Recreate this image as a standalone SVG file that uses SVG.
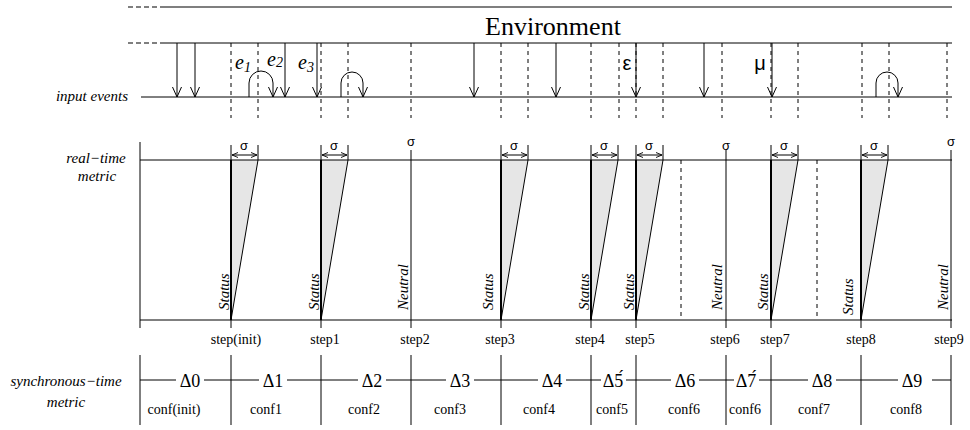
<svg xmlns="http://www.w3.org/2000/svg" width="970" height="430" viewBox="0 0 970 430">
<style>
.ln{stroke:#000;stroke-width:1;fill:none}
.gr{stroke:#555;stroke-width:1.5;fill:none}
.dash{stroke:#000;stroke-width:1;stroke-dasharray:4 4;fill:none}
.thick{stroke:#000;stroke-width:2;fill:none}
.shade{fill:#e6e6e6;stroke:none}
.ser{font-family:"Liberation Serif","Times New Roman",serif;fill:#000}
.it{font-style:italic}
.sans{font-family:"Liberation Sans",Arial,sans-serif;fill:#000}
.lbl{font-size:15px;text-anchor:middle}
.step{font-size:14px;text-anchor:middle}
.conf{font-size:14px;text-anchor:middle}
.delta{font-size:18px;text-anchor:middle}
.sig{font-size:13px;text-anchor:middle}
.rot{font-size:15px}
</style>
<defs>
<marker id="ah" viewBox="0 0 10 10" refX="10" refY="5" markerWidth="10" markerHeight="10" markerUnits="userSpaceOnUse" orient="auto"><path d="M0,0.5 L10,5 L0,9.5" fill="none" stroke="#000" stroke-width="1"/></marker>
<marker id="sa" viewBox="0 0 6 6" refX="6" refY="3" markerWidth="6" markerHeight="6" markerUnits="userSpaceOnUse" orient="auto-start-reverse"><path d="M0,0.5 L6,3 L0,5.5" fill="none" stroke="#000" stroke-width="0.9"/></marker>
</defs>

<g id="environment">
<path class="gr" d="M128,7 H165 M128,43 H165" style="stroke-dasharray:5 3"/>
<path class="gr" d="M165,7 H952"/>
<path class="ln" d="M165,43 H952"/>
<text class="ser" font-size="26" x="553" y="35" text-anchor="middle">Environment</text>
</g>

<g id="input-events">
<text class="ser it" font-size="15" x="128" y="101" text-anchor="end">input events</text>
<path class="ln" d="M141,97 H952"/>
<path class="dash" d="M231,43 V118 M258,43 V118 M321,43 V118 M348,43 V118 M411,43 V118 M501,43 V118 M528,43 V118 M591,43 V118 M619,43 V118 M636,43 V118 M663,43 V118 M722,43 V118 M771,43 V118 M798,43 V118 M862,43 V118 M889,43 V118 M947,43 V118"/>
<text class="ser it" font-size="20" x="235" y="69">e<tspan font-size="14" dy="3">1</tspan></text>
<text class="ser it" font-size="20" x="267" y="66">e<tspan font-size="14" dy="1">2</tspan></text>
<text class="ser it" font-size="20" x="298" y="69">e<tspan font-size="14" dy="3">3</tspan></text>
<text class="sans" font-size="20" x="627" y="70" text-anchor="middle">ε</text>
<text class="sans" font-size="20" x="760" y="70" text-anchor="middle">μ</text>
</g>

<g id="connectors">
<path class="ln" marker-end="url(#ah)" d="M177,43 V97"/>
<path class="ln" marker-end="url(#ah)" d="M195,43 V97"/>
<path class="ln" marker-end="url(#ah)" d="M285,43 V97"/>
<path class="ln" marker-end="url(#ah)" d="M317,43 V97"/>
<path class="ln" marker-end="url(#ah)" d="M474,43 V97"/>
<path class="ln" marker-end="url(#ah)" d="M556,43 V97"/>
<path class="ln" marker-end="url(#ah)" d="M636,43 V97"/>
<path class="ln" marker-end="url(#ah)" d="M704,43 V97"/>
<path class="ln" marker-end="url(#ah)" d="M772,43 V97"/>
<path class="ln" marker-end="url(#ah)" d="M249,97 V83 A12,12 0 0 1 273,83 V97"/>
<path class="ln" marker-end="url(#ah)" d="M341,97 V83 A11,11 0 0 1 363,83 V97"/>
<path class="ln" marker-end="url(#ah)" d="M876,97 V83 A11,11 0 0 1 898,83 V97"/>
</g>

<g id="real-time">
<text class="ser it lbl" x="96" y="163">real−time</text>
<text class="ser it lbl" x="97" y="181">metric</text>
<g class="shade">
<polygon points="231,160 258,160 231,320"/>
<polygon points="321,160 348,160 321,320"/>
<polygon points="501,160 528,160 501,320"/>
<polygon points="591,160 618,160 591,320"/>
<polygon points="636,160 663,160 636,320"/>
<polygon points="771,160 798,160 771,320"/>
<polygon points="861,160 888,160 861,320"/>
</g>
<path class="ln" d="M140,160 H952 M140,320 H952 M140,142 V328"/>
<path class="ln" d="M258,160 L231,320 M348,160 L321,320 M528,160 L501,320 M618,160 L591,320 M663,160 L636,320 M798,160 L771,320 M888,160 L861,320"/>
<path class="ln" d="M231,145 V328 M258,145 V160 M321,145 V328 M348,145 V160 M501,145 V328 M528,145 V160 M591,145 V328 M618,145 V160 M636,145 V328 M663,145 V160 M771,145 V328 M798,145 V160 M861,145 V328 M888,145 V160"/>
<path class="thick" d="M231,160 V320 M321,160 V320 M501,160 V320 M591,160 V320 M636,160 V320 M771,160 V320 M861,160 V320"/>
<path class="ln" d="M411,150 V328 M726,150 V328 M951,150 V328"/>
<path class="dash" d="M681,160 V320 M817,160 V320"/>
<g class="ln" marker-start="url(#sa)" marker-end="url(#sa)">
<path d="M232,155 H257"/>
<path d="M322,155 H347"/>
<path d="M502,155 H527"/>
<path d="M592,155 H617"/>
<path d="M637,155 H662"/>
<path d="M772,155 H797"/>
<path d="M862,155 H887"/>
</g>
<g class="sans sig">
<text x="244" y="150">σ</text>
<text x="334" y="150">σ</text>
<text x="514" y="150">σ</text>
<text x="604" y="150">σ</text>
<text x="649" y="150">σ</text>
<text x="784" y="150">σ</text>
<text x="874" y="150">σ</text>
<text x="411" y="146">σ</text>
<text x="726" y="150">σ</text>
<text x="951" y="146">σ</text>
</g>
<g class="ser it rot">
<text transform="translate(229,310) rotate(-90)">Status</text>
<text transform="translate(319,310) rotate(-90)">Status</text>
<text transform="translate(408,310) rotate(-90)">Neutral</text>
<text transform="translate(493,310) rotate(-90)">Status</text>
<text transform="translate(589,310) rotate(-90)">Status</text>
<text transform="translate(634,310) rotate(-90)">Status</text>
<text transform="translate(722,310) rotate(-90)">Neutral</text>
<text transform="translate(768,310) rotate(-90)">Status</text>
<text transform="translate(853,315) rotate(-90)">Status</text>
<text transform="translate(948,310) rotate(-90)">Neutral</text>
</g>
</g>

<g id="steps" class="ser step">
<text x="236" y="344">step(init)</text>
<text x="325" y="344">step1</text>
<text x="415" y="344">step2</text>
<text x="500" y="344">step3</text>
<text x="590" y="344">step4</text>
<text x="640" y="344">step5</text>
<text x="725" y="344">step6</text>
<text x="775" y="344">step7</text>
<text x="861" y="344">step8</text>
<text x="949" y="344">step9</text>
</g>

<g id="synchronous-time">
<text class="ser it lbl" x="66" y="386">synchronous−time</text>
<text class="ser it lbl" x="66" y="407">metric</text>
<path class="ln" d="M140,355 V425 M231,355 V425 M321,355 V425 M411,355 V425 M501,355 V425 M591,355 V425 M636,355 V425 M726,355 V425 M771,355 V425 M861,355 V425 M951,355 V425"/>
<path class="ln" d="M140,380 H176 M204,380 H259 M287,380 H358 M386,380 H446 M474,380 H538 M566,380 H601 M626,380 H671 M699,380 H734 M759,380 H808 M836,380 H898 M932,380 H951"/>
<g class="ser delta">
<text x="190" y="387">Δ0</text>
<text x="273" y="387">Δ1</text>
<text x="372" y="387">Δ2</text>
<text x="460" y="387">Δ3</text>
<text x="552" y="387">Δ4</text>
<text x="613" y="387">Δ5́</text>
<text x="685" y="387">Δ6</text>
<text x="746" y="387">Δ7́</text>
<text x="822" y="387">Δ8</text>
<text x="912" y="387">Δ9</text>
</g>
<g class="ser conf">
<text x="174" y="414">conf(init)</text>
<text x="266" y="414">conf1</text>
<text x="364" y="414">conf2</text>
<text x="450" y="414">conf3</text>
<text x="539" y="414">conf4</text>
<text x="612" y="414">conf5</text>
<text x="684" y="414">conf6</text>
<text x="745" y="414">conf6</text>
<text x="814" y="414">conf7</text>
<text x="906" y="414">conf8</text>
</g>
</g>
</svg>
